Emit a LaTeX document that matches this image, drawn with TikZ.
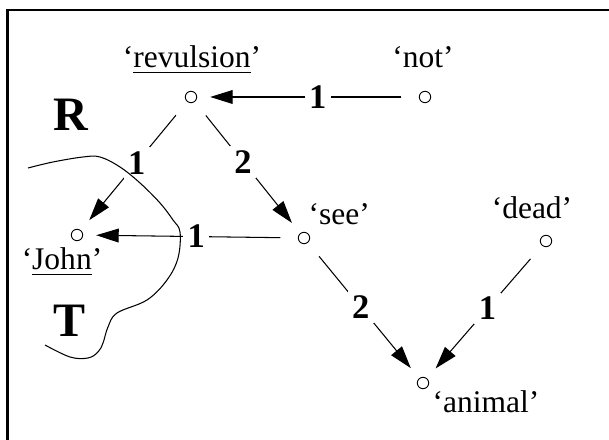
\documentclass[tikz,border=0pt]{standalone}
\usepackage{fontspec}
\setmainfont{Liberation Serif}
\usetikzlibrary{arrows.meta}

\begin{document}
\begin{tikzpicture}
	[x=0.3333pt, y=-0.3333pt, font=\fontsize{10.5}{12}\selectfont,
	sem/.style={circle, draw, line width=0.3pt, minimum size=3.8pt, inner sep=0pt, outer sep=4.5pt},
	rel/.style={line width=0.35pt, shorten <=1.5pt, -{Triangle[length=7.5pt, width=4.6pt]}},
	num/.style={fill=white, inner sep=1.5pt, font=\fontsize{11.5}{13}\selectfont\bfseries},
	gloss/.style={anchor=base, inner sep=0pt},
	side/.style={font=\fontsize{16}{18}\selectfont\bfseries}]
	\useasboundingbox (0,0) rectangle (609,440);
	\draw[line width=0.7pt] (7.5,440) -- (7.5,10) -- (609,10);
	% semantemes
	\node[sem] (revulsion) at (191,97) {};
	\node[sem] (not) at (425,97) {};
	\node[sem] (john) at (77,235) {};
	\node[sem] (see) at (304,238) {};
	\node[sem] (dead) at (546,241) {};
	\node[sem] (animal) at (423,383) {};
	\node[gloss] (revulsion-t) at (192,68) {`\underline{revulsion}'};
	\node[gloss] (not-t) at (423,68) {`not'};
	\node[gloss] (john-t) at (62,270) {`\underline{John}'};
	\node[gloss, anchor=base west] (see-t) at (308,225) {`see'};
	\node[gloss] (dead-t) at (532,219) {`dead'};
	\node[gloss, anchor=base west] (animal-t) at (432,413) {`animal'};
	\node[side] (r) at (71,115) {R};
	\node[side] (t) at (70,321) {T};
	% relations
	\draw[rel] (not) -- node[num, pos=0.45] {1} (revulsion);
	\draw[rel] (revulsion) -- node[num, pos=0.47] {1} (john);
	\draw[rel] (revulsion) -- node[num, pos=0.45] {2} (see);
	\draw[rel] (see) -- node[num, pos=0.47] {1} (john);
	\draw[rel] (see) -- node[num, pos=0.47] {2} (animal);
	\draw[rel] (dead) -- node[num, pos=0.47] {1} (animal);
	% rheme / theme border
	\draw[line width=0.35pt] plot[smooth, tension=0.6] coordinates {(28,168) (53,162) (83,157)
		(100,157) (120,167) (140,183) (160,203) (173,220) (180,232) (178,258) (167,280)
		(147,300) (117,313) (108,327) (103,343) (98,352) (88,358) (70,357) (45,345)};
\end{tikzpicture}
\end{document}
